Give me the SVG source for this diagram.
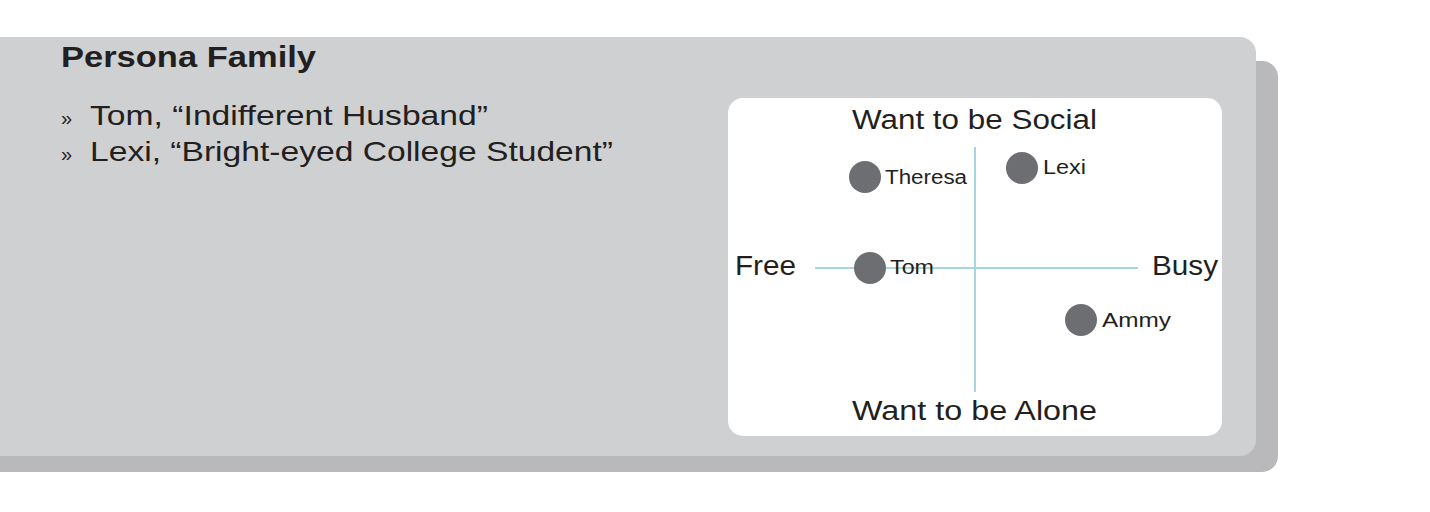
<svg xmlns="http://www.w3.org/2000/svg" width="1430" height="512" viewBox="0 0 1430 512">
<style>
text{font-family:"Liberation Sans",Arial,sans-serif;fill:#231f20}
.title{font-size:30px;font-weight:bold}
.bul{font-size:28px}
.mark{font-size:20px}
.ax{font-size:27px}
.lbl{font-size:20px}
.dot{fill:#6d6e71}
.axis{stroke:#a6d6de;stroke-width:2;fill:none}
</style>
<rect width="1430" height="512" fill="#ffffff"/>
<g id="panel">
<rect x="-20" y="61" width="1298" height="411" rx="16" fill="#b9b9bb"/>
<rect x="-20" y="37" width="1276" height="419" rx="16" fill="#cfd0d2"/>
</g>
<g id="header">
<text class="title" x="61" y="67" textLength="255" lengthAdjust="spacingAndGlyphs">Persona Family</text>
<text class="mark" x="61" y="125">»</text>
<text class="bul" x="90" y="125" textLength="398" lengthAdjust="spacingAndGlyphs">Tom, “Indifferent Husband”</text>
<text class="mark" x="61" y="161">»</text>
<text class="bul" x="90" y="161" textLength="523" lengthAdjust="spacingAndGlyphs">Lexi, “Bright-eyed College Student”</text>
</g>
<g id="chart">
<rect x="728" y="98" width="494" height="338" rx="15" fill="#ffffff"/>
<text class="ax" x="852" y="129" textLength="245" lengthAdjust="spacingAndGlyphs">Want to be Social</text>
<text class="ax" x="852" y="420" textLength="245" lengthAdjust="spacingAndGlyphs">Want to be Alone</text>
<text class="ax" x="735" y="275" textLength="61" lengthAdjust="spacingAndGlyphs">Free</text>
<text class="ax" x="1152" y="275" textLength="66" lengthAdjust="spacingAndGlyphs">Busy</text>
</g>
<g id="connectors">
<line class="axis" x1="815" y1="268" x2="1138" y2="268"/>
<line class="axis" x1="975" y1="147" x2="975" y2="392"/>
</g>
<g id="theresa"><circle class="dot" cx="865" cy="177" r="16"/><text class="lbl" x="885" y="184" textLength="82" lengthAdjust="spacingAndGlyphs">Theresa</text></g>
<g id="lexi"><circle class="dot" cx="1022" cy="168" r="16"/><text class="lbl" x="1043" y="174" textLength="43" lengthAdjust="spacingAndGlyphs">Lexi</text></g>
<g id="tom"><circle class="dot" cx="870" cy="268" r="16"/><text class="lbl" x="890" y="274" textLength="44" lengthAdjust="spacingAndGlyphs">Tom</text></g>
<g id="ammy"><circle class="dot" cx="1081" cy="320" r="16"/><text class="lbl" x="1102" y="327" textLength="69" lengthAdjust="spacingAndGlyphs">Ammy</text></g>
</svg>
